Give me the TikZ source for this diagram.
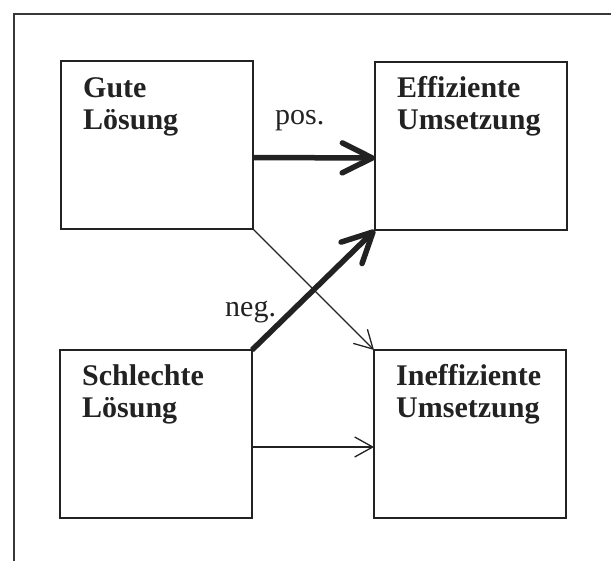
\documentclass[tikz,border=0pt]{standalone}
\usepackage{fontspec}
\setmainfont{Liberation Serif}
\usetikzlibrary{arrows.meta}
\definecolor{ink}{HTML}{222222}
\begin{document}
\begin{tikzpicture}[x=1pt,y=-1pt,
  box/.style={draw=ink,line width=2.7pt,minimum width=192pt,minimum height=168pt,anchor=north west,outer sep=0pt,inner sep=0pt},
  btxt/.style={anchor=base west,inner sep=0pt,text=ink,font=\fontsize{30}{32}\selectfont\bfseries},
  ltxt/.style={anchor=base west,inner sep=0pt,text=ink,font=\fontsize{30}{32}\selectfont},
  thick arrow/.style={draw=ink,line width=5.5pt,-{Straight Barb[length=30pt,width=30pt,round]}},
  thin arrow/.style={draw=ink,line width=1.3pt,-{Straight Barb[length=18pt,width=20pt]}},
  frame/.style={draw=ink!90,line width=2.2pt}]
\useasboundingbox (0,0) rectangle (611,561);
\draw[frame] (14,575) -- (14,14) -- (625,14);
\node[box] (G) at (61,61) {};
\node[box] (E) at (375,62) {};
\node[box] (S) at (60,350) {};
\node[box] (I) at (374,350) {};
\node[btxt] (g1) at (83,98) {Gute};
\node[btxt] (g2) at (83,130) {Lösung};
\node[btxt] (e1) at (397,98) {Effiziente};
\node[btxt] (e2) at (397,130) {Umsetzung};
\node[btxt] (s1) at (82,386) {Schlechte};
\node[btxt] (s2) at (82,418) {Lösung};
\node[btxt] (i1) at (396,386) {Ineffiziente};
\node[btxt] (i2) at (396,418) {Umsetzung};
\node[ltxt] (pos) at (275,125) {pos.};
\node[ltxt] (neg) at (225,317) {neg.};
\draw[thin arrow] (G.south east) -- (I.north west);
\draw[thin arrow] ([yshift=-13pt]S.east) -- ([yshift=-13pt]I.west);
\draw[thick arrow] ([yshift=-12.5pt]G.east) -- ([yshift=-12pt]E.west);
\draw[thick arrow] (S.north east) -- (E.south west);
\end{tikzpicture}
\end{document}
